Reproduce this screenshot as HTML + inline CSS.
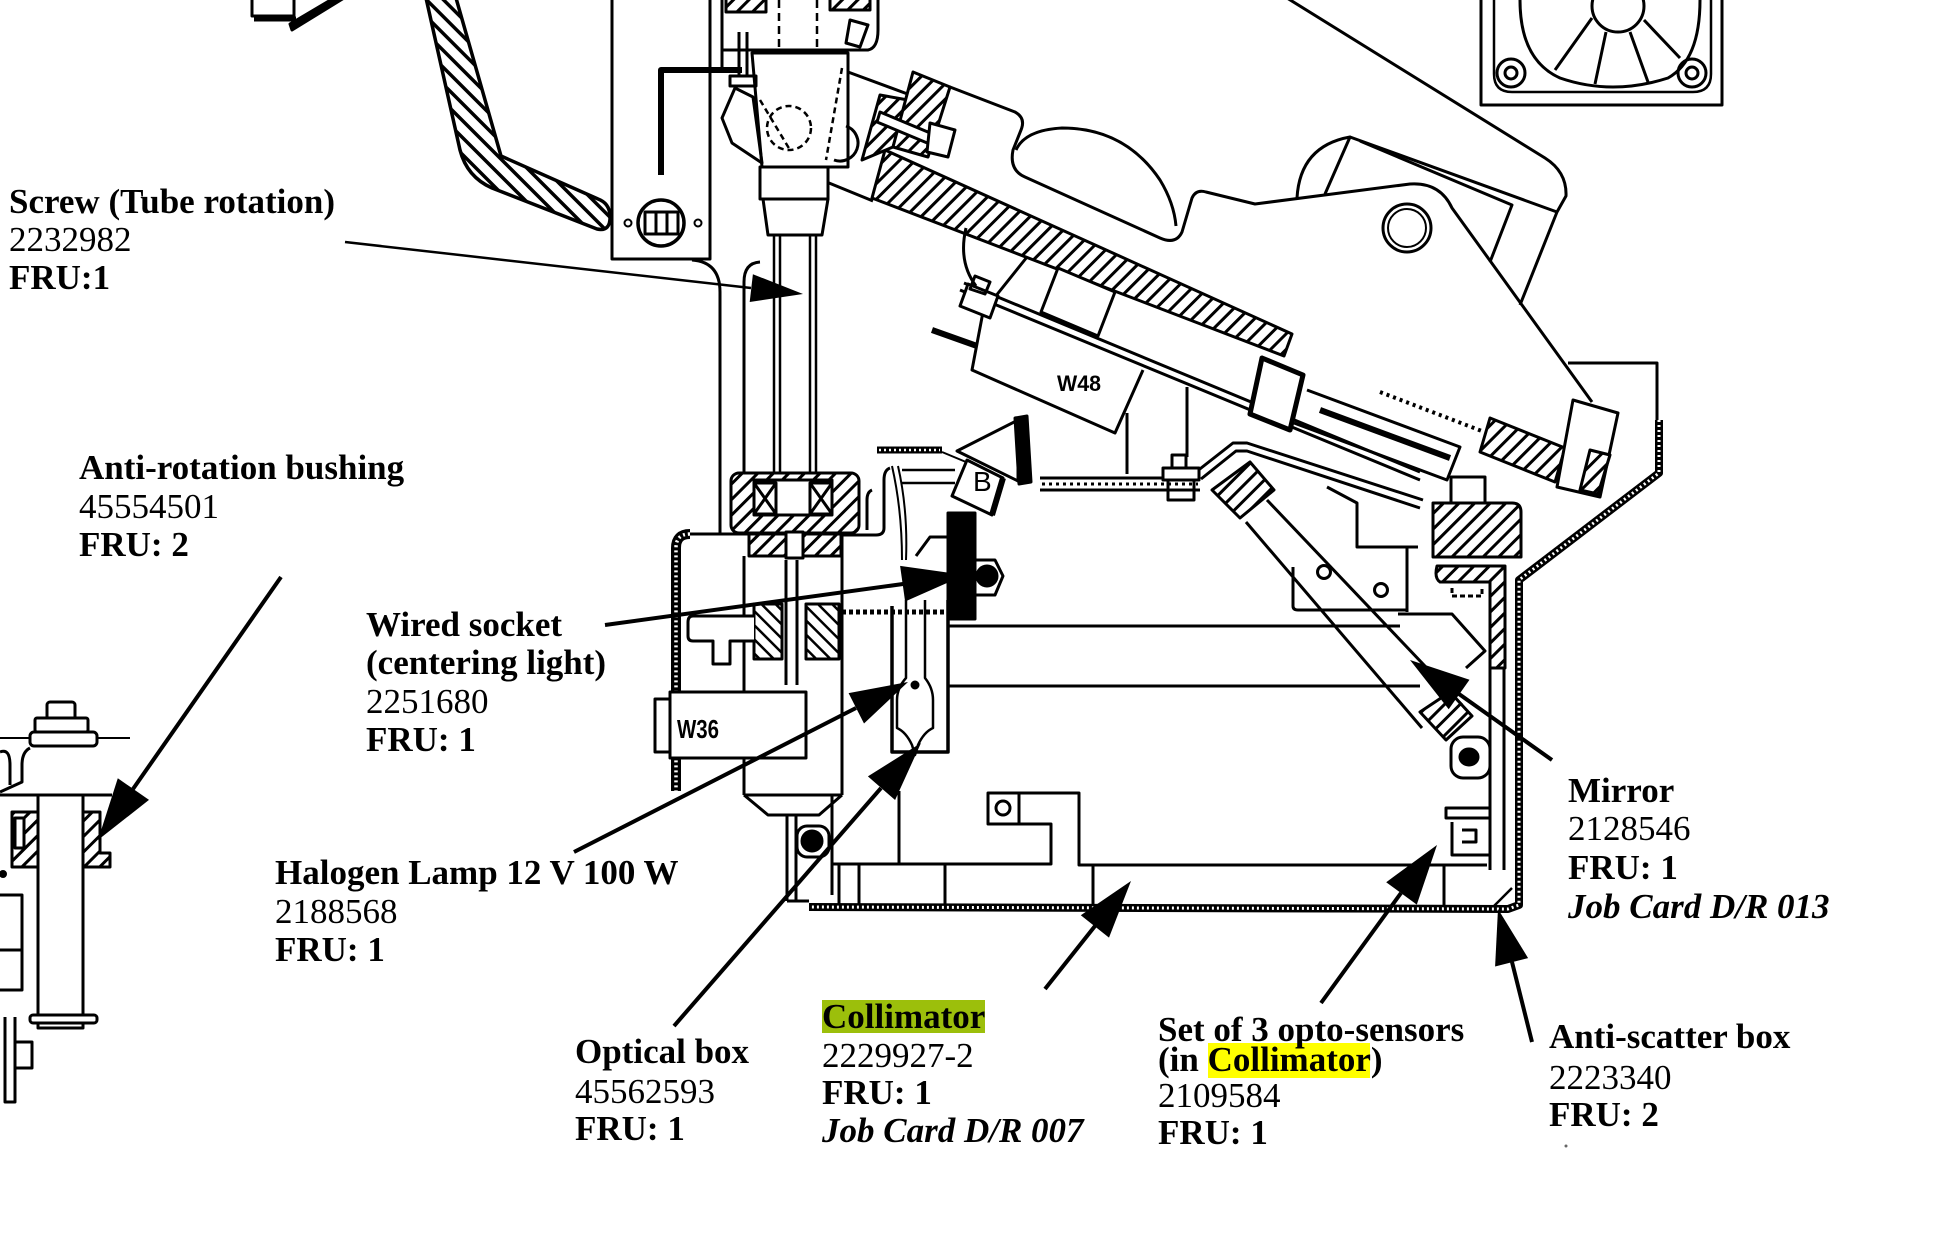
<!DOCTYPE html>
<html><head><meta charset="utf-8"><style>
html,body{margin:0;padding:0;background:#fff;overflow:hidden}
svg{display:block}
.t{font-family:"Liberation Serif","Times New Roman",serif;font-size:35px;fill:#000}
.b{font-weight:bold}
.bi{font-weight:bold;font-style:italic}
</style></head><body>
<svg xmlns="http://www.w3.org/2000/svg" width="1945" height="1245" viewBox="0 0 1945 1245">
<defs>
<pattern id="hb" width="12" height="12" patternUnits="userSpaceOnUse" patternTransform="rotate(-45)"><rect width="12" height="12" fill="#fff"/><rect width="3.5" height="12" fill="#000"/></pattern>
<pattern id="hf" width="11" height="11" patternUnits="userSpaceOnUse" patternTransform="rotate(45)"><rect width="11" height="11" fill="#fff"/><rect width="3" height="11" fill="#000"/></pattern>
<pattern id="hf2" width="10" height="10" patternUnits="userSpaceOnUse" patternTransform="rotate(-45)"><rect width="10" height="10" fill="#fff"/><rect width="2.5" height="10" fill="#000"/></pattern>
</defs>
<rect width="1945" height="1245" fill="#fff"/>
<g fill="none" stroke="#000" stroke-width="3" stroke-linejoin="round">
<!-- top-left arrow -->
<rect x="252" y="-3" width="42" height="19"/>
<path d="M254,19 L296,19" stroke-width="5"/>
<path d="M292,30 L344,-2 L334,-2 L290,24 Z" fill="#000"/>
<!-- hatched bracket -->
<path d="M426,-2 L460,150 Q467,177 492,188 L597,229 Q611,232 610,215 Q609,203 598,199 L501,156 L456,-2" fill="url(#hb)" stroke-width="3.5"/>
<!-- plate -->
<path d="M612,-2 L612,259 L710,259 L710,-2"/>
<path d="M722,-2 L722,67"/>
<path d="M661,175 L661,70 L742,70" stroke-width="6"/>
<circle cx="661" cy="223" r="23" stroke-width="3.5"/>
<rect x="645" y="212" width="33" height="22"/>
<path d="M656,212 V234 M667,212 V234"/>
<circle cx="628" cy="223" r="3.5" stroke-width="2"/>
<circle cx="698" cy="223" r="3.5" stroke-width="2"/>
<path d="M692,260 Q720,262 720,292 L720,534"/>
<path d="M760,262 Q744,263 744,282 L744,478"/>
<!-- tube -->
<path d="M774,234 V476 M780,234 V476 M810,234 V476 M816,234 V476" stroke-width="2.5"/>
<!-- column top -->
<path d="M722,50 L868,50 Q878,48 878,30 L878,-2"/>
<rect x="726" y="-4" width="40" height="16" fill="url(#hf)"/>
<rect x="830" y="-4" width="40" height="14" fill="url(#hf)"/>
<path d="M779,0 V50 M817,0 V50" stroke-dasharray="8 5" stroke-width="2.5"/>
<path d="M850,20 L868,25 L860,47 L846,43 Z"/>
<path d="M752,53 L848,53 L848,167 L762,167 Z"/>
<circle cx="789" cy="128" r="22" stroke-dasharray="6 4" stroke-width="2.5"/>
<path d="M760,100 L790,150 M842,68 L826,160" stroke-dasharray="6 4" stroke-width="2.5"/>
<path d="M722,118 L735,88 L753,97 L762,163 L732,143 Z"/>
<rect x="730" y="76" width="26" height="10"/>
<path d="M739,32 V76 M747,32 V76"/>
<rect x="760" y="167" width="68" height="32"/>
<path d="M763,199 L828,199 L822,235 L768,235 Z"/>
<path d="M846,126 A17,17 0 0 1 834,160"/>
<!-- arm -->
<path d="M848,72 L913,96"/>
<path d="M829,183 L873,201"/>
<path d="M885,150 L1292,334 L1284,356 L872,198 Z" fill="url(#hf)"/>
<path d="M862,160 L880,95 L908,100 L893,147 Z" fill="url(#hf)"/>
<path d="M913,72 L950,87 L928,157 L893,147 Z" fill="url(#hf)"/>
<path d="M880,112 L935,135 L932,145 L877,122 Z" fill="#fff"/>
<path d="M930,123 L955,130 L948,157 L927,152 Z" fill="#fff"/>
<path d="M950,87 L1015,112 Q1026,118 1021,130 L1013,150 Q1009,170 1025,177 L1160,238 Q1176,245 1182,232 L1192,198 Q1196,189 1206,192 L1255,204 L1410,184 Q1440,182 1452,208 L1592,402"/>
<path d="M1016,150 Q1025,130 1062,128 Q1125,128 1160,180 Q1174,203 1176,226"/>
<!-- housing -->
<path d="M1287,-2 L1545,158 Q1567,172 1566,196 L1557,212 L1520,305"/>
<path d="M1350,137 L1557,212"/>
<path d="M1360,141 L1512,205 L1490,262"/>
<path d="M1297,198 Q1300,146 1350,137 L1325,194"/>
<circle cx="1407" cy="228" r="24"/><circle cx="1407" cy="228" r="19" stroke-width="2"/>
<path d="M1568,363 L1657,363 L1657,420"/>
<!-- fan -->
<path d="M1481,-2 L1481,105 L1722,105 L1722,-2"/>
<path d="M1494,-2 L1494,74 Q1494,92 1512,92 L1693,92 Q1711,92 1711,74 L1711,-2" stroke-width="2.5"/>
<circle cx="1511" cy="73" r="14"/><circle cx="1511" cy="73" r="6"/>
<circle cx="1692" cy="73" r="14"/><circle cx="1692" cy="73" r="6"/>
<path d="M1520,0 Q1520,60 1560,78 Q1612,96 1668,78 Q1700,60 1700,0"/>
<circle cx="1618" cy="6" r="26"/>
<path d="M1592,18 L1555,70 M1606,32 L1595,84 M1630,32 L1648,82 M1644,20 L1680,58"/>
<!-- rails & W48 -->
<path d="M960,290 L1420,480 M964,283 L1420,472"/>
<path d="M1027,257 L983,312 L972,370 L1115,433 L1143,370"/>
<path d="M968,284 L998,296 L990,318 L960,306 Z" fill="#fff"/>
<path d="M975,276 L990,282 L985,294 L970,289 Z"/>
<path d="M932,330 L977,346" stroke-width="6"/>
<path d="M966,228 Q958,262 976,286"/>
<path d="M1058,268 L1115,292 L1098,336 L1041,312 Z" fill="#fff"/>
<path d="M1262,358 L1303,375 L1290,430 L1250,414 Z" stroke-width="5" fill="#fff"/>
<path d="M1307,390 L1460,447 L1447,480 L1294,423"/>
<path d="M1320,410 L1450,458" stroke-width="6"/>
<path d="M1380,392 L1487,433" stroke-width="4" stroke-dasharray="3 4"/>
<path d="M1490,418 L1565,448 L1555,482 L1480,452 Z" fill="url(#hf)"/>
<path d="M1573,400 L1618,413 L1600,497 L1557,487 Z" fill="#fff"/>
<path d="M1590,450 L1610,455 L1598,494 L1580,490 Z" fill="url(#hf)"/>
<path d="M1127,413 V474 M1187,387 V457"/>
<!-- B view arrow -->
<path d="M957,451 L1018,420 L1018,481 Z" fill="#fff"/>
<path d="M1015,418 L1027,416 L1031,482 L1019,484 Z" fill="#000"/>
<path d="M967,460 L1003,478 L992,515 L952,496 Z" fill="#fff"/>
<path d="M1003,478 L992,515" stroke-width="6"/>
<path d="M877,450 L942,450" stroke-width="7"/>
<path d="M879,450 L940,450" stroke="#fff" stroke-width="2.5" stroke-dasharray="2 3"/>
<path d="M942,452 L966,462" stroke-width="2"/>
<!-- dotted plate -->
<path d="M1040,478 H1200 M1040,490 H1200"/>
<path d="M1042,484 H1198" stroke-dasharray="3 4"/>
<path d="M1196,472 L1233,443 L1247,443 L1423,500"/>
<path d="M1201,479 L1236,451 L1247,451 L1420,508"/>
<rect x="1172" y="455" width="14" height="13"/><rect x="1163" y="468" width="36" height="12" fill="#fff"/><rect x="1168" y="480" width="26" height="20"/>
<!-- mirror arm -->
<path d="M1246,522 L1422,728"/>
<path d="M1267,500 L1462,705"/>
<path d="M1212,490 L1250,462 L1274,490 L1240,518 Z" fill="url(#hf)"/>
<circle cx="1324" cy="572" r="6.5"/><circle cx="1381" cy="590" r="6.5"/>
<path d="M1420,712 L1450,692 L1472,716 L1446,740 Z" fill="url(#hf)"/>
<path d="M1398,614 L1452,614 L1485,651 L1466,668"/>
<path d="M1293,567 V606 Q1293,610 1298,610 L1407,610"/>
<path d="M1327,487 L1357,503 V547 H1418 M1407,547 V612"/>
<!-- right bracket -->
<path d="M1433,503 H1512 Q1521,503 1521,512 V557 H1433 Z" fill="url(#hf)"/>
<rect x="1451" y="477" width="34" height="26" fill="#fff"/>
<path d="M1437,566 H1505 V668 H1490 V582 H1440 Q1434,578 1437,566 Z" fill="url(#hf)"/>
<path d="M1452,588 V596 H1482 V588" stroke-dasharray="5 3"/>
<path d="M1490,668 V870 M1504,668 V870"/>
<rect x="1451" y="737" width="39" height="41" rx="12"/>
<ellipse cx="1469" cy="757" rx="9" ry="8" fill="#000"/>
<path d="M1446,808 H1490 V818 H1446 Z M1452,822 V855 H1490 M1462,830 H1476 V842 H1462"/>
<!-- outer dotted wall -->
<path d="M1659,420 L1659,473 L1519,580 L1519,905 L1508,909 L809,907" stroke-width="8"/>
<path d="M1659,420 L1659,473 L1519,580 L1519,905 L1508,909 L809,907" stroke="#fff" stroke-width="3" stroke-dasharray="2 3"/>
<path d="M1494,906 L1512,888" stroke-width="2.5"/>
<!-- box lines -->
<path d="M948,626 H1400 M948,686 H1420"/>
<path d="M832,864 H1051 V824 H988 V793 H1079 V865 H1487"/>
<circle cx="1003" cy="808" r="7"/><path d="M1019,793 V824"/>
<path d="M839,865 V905 M859,865 V905 M945,865 V905 M1093,865 V905 M1444,865 V905"/>
<path d="M899,791 V864 M832,795 V864"/>
<!-- optical box -->
<rect x="731" y="473" width="128" height="60" rx="8" fill="url(#hf)"/>
<rect x="754" y="480" width="78" height="35" fill="#fff"/>
<rect x="754" y="483" width="22" height="31"/><path d="M754,483 L776,514 M776,483 L754,514"/>
<rect x="810" y="483" width="22" height="31"/><path d="M810,483 L832,514 M832,483 L810,514"/>
<rect x="749" y="534" width="92" height="22" fill="url(#hf)"/>
<rect x="786" y="532" width="17" height="26" fill="#fff"/>
<path d="M690,534 Q676,534 676,548 L676,791" stroke-width="10"/>
<path d="M690,534 Q676,534 676,548 L676,791" stroke="#fff" stroke-width="3.5" stroke-dasharray="2 3"/>
<path d="M690,534 H750"/>
<path d="M744,556 V795 M842,534 V795"/>
<path d="M786,560 V685 M797,560 V685"/>
<rect x="754" y="604" width="28" height="55" fill="url(#hf2)"/>
<rect x="806" y="604" width="33" height="55" fill="url(#hf2)"/>
<path d="M754,616 H693 Q688,616 688,622 V636 Q688,641 693,641 H713 V664 H730 V641 H754" fill="#fff"/>
<rect x="670" y="692" width="136" height="66" fill="#fff"/>
<rect x="655" y="699" width="15" height="53" fill="#fff"/>
<path d="M744,795 H842 M744,795 L768,815 H819 L842,795"/>
<path d="M787,815 V901 M796,815 V901 M832,815 V895"/>
<rect x="797" y="826" width="32" height="31" rx="10"/>
<circle cx="812" cy="841" r="10" fill="#000"/>
<path d="M787,901 H809"/>
<!-- lamp holder -->
<path d="M892,606 V752 H948 V600" stroke-width="3.5"/>
<path d="M906,600 V678 Q897,688 897,700 V728 Q906,732 912,745 L915,755 L918,745 Q924,732 933,728 V700 Q933,688 925,678 V600" stroke-width="2.5"/>
<circle cx="915" cy="685" r="3" fill="#000"/>
<path d="M892,466 Q902,510 902,560 M898,466 Q908,510 906,560" stroke-width="2"/>
<path d="M902,470 H955 M902,483 H955" stroke-width="2.5"/>
<path d="M890,468 Q884,470 884,480 V528 Q884,535 876,535 H842"/>
<path d="M872,490 Q867,492 867,500 V530"/>
<rect x="948" y="513" width="27" height="106" fill="#000"/>
<path d="M975,560 H995 L1003,576 L995,595 H975 Z" fill="#fff"/>
<circle cx="987" cy="576" r="10" fill="#000"/>
<path d="M916,556 L930,537 H948"/>
<path d="M842,612 H948" stroke-width="5" stroke-dasharray="4 3"/>
<!-- left partial figure -->
<rect x="47" y="702" width="28" height="21" rx="3"/>
<rect x="35" y="718" width="53" height="14" rx="2" fill="#fff"/>
<rect x="30" y="732" width="67" height="14" rx="4" fill="#fff"/>
<path d="M0,738 H30 M97,738 H130" stroke-width="2"/>
<path d="M0,752 Q10,748 10,765 V785 M30,748 Q22,752 22,765 V782 L0,792"/>
<path d="M0,795 H112"/>
<rect x="38" y="795" width="45" height="233"/>
<rect x="12" y="812" width="26" height="55" fill="url(#hf)"/>
<rect x="15" y="818" width="9" height="30" fill="#fff"/>
<path d="M83,812 H100 V853 H110 V867 H83 Z" fill="url(#hf)"/>
<rect x="30" y="1015" width="67" height="8" rx="3" fill="#fff"/>
<path d="M-2,895 H22 V990 H-2 M0,950 H22"/>
<circle cx="3" cy="874" r="2.5" fill="#000"/>
<path d="M5,1017 V1102 H15 V1017 M15,1042 H32 V1068 H15"/>
<!-- leader lines -->
<path d="M345,242 L751,288" stroke-width="2.5"/>
<path d="M281,577 L133,789" stroke-width="4"/>
<path d="M605,625 L903,584" stroke-width="4"/>
<path d="M574,852 L856,708" stroke-width="4"/>
<path d="M674,1026 L881,788" stroke-width="4"/>
<path d="M1045,989 L1095,926" stroke-width="4"/>
<path d="M1321,1003 L1401,893" stroke-width="4"/>
<path d="M1532,1042 L1512,962" stroke-width="4"/>
<path d="M1552,760 L1459,694" stroke-width="4"/>
</g>
<g fill="#000" stroke="none">
<polygon points="803,294 752.9,274.2 749.7,302.0"/>
<polygon points="98,840 117.8,778.3 149.0,799.9"/>
<polygon points="965,575 905.1,601.5 900.1,565.9"/>
<polygon points="908,682 864.0,723.5 848.6,693.1"/>
<polygon points="921,743 895.1,800.0 867.9,776.4"/>
<polygon points="1131,881 1109,937.6 1080.8,915.2"/>
<polygon points="1437,845 1416.8,904.6 1386.2,882.2"/>
<polygon points="1498,909 1528.1,958.1 1495.1,966.5"/>
<polygon points="1410,660 1469.5,679.8 1448.7,709.2"/>
<text x="1057" y="391" font-family="Liberation Sans, sans-serif" font-weight="bold" font-size="22" textLength="44" lengthAdjust="spacingAndGlyphs">W48</text>
<text x="677" y="738" font-family="Liberation Sans, sans-serif" font-weight="bold" font-size="26" textLength="42" lengthAdjust="spacingAndGlyphs">W36</text>
<text x="973" y="491" font-family="Liberation Sans, sans-serif" font-size="28">B</text>
<circle cx="1566" cy="1146" r="1.5" fill="#666"/>
</g>
<!-- highlights -->
<rect x="822" y="1000" width="163" height="33" fill="#9cbf0b"/>
<rect x="1208" y="1043" width="162" height="35" fill="#ffff00"/>
<!-- labels -->
<text class="t b" x="9" y="213">Screw (Tube rotation)</text>
<text class="t" x="9" y="251">2232982</text>
<text class="t b" x="9" y="289">FRU:1</text>

<text class="t b" x="79" y="479">Anti-rotation bushing</text>
<text class="t" x="79" y="518">45554501</text>
<text class="t b" x="79" y="556">FRU: 2</text>

<text class="t b" x="366" y="636">Wired socket</text>
<text class="t b" x="366" y="674">(centering light)</text>
<text class="t" x="366" y="713">2251680</text>
<text class="t b" x="366" y="751">FRU: 1</text>

<text class="t b" x="275" y="884">Halogen Lamp 12 V 100 W</text>
<text class="t" x="275" y="923">2188568</text>
<text class="t b" x="275" y="961">FRU: 1</text>

<text class="t b" x="575" y="1063">Optical box</text>
<text class="t" x="575" y="1103">45562593</text>
<text class="t b" x="575" y="1140">FRU: 1</text>

<text class="t b" x="822" y="1028">Collimator</text>
<text class="t" x="822" y="1067">2229927-2</text>
<text class="t b" x="822" y="1104">FRU: 1</text>
<text class="t bi" x="822" y="1142">Job Card D/R 007</text>

<text class="t b" x="1158" y="1041">Set of 3 opto-sensors</text>
<text class="t b" x="1158" y="1071">(in Collimator)</text>
<text class="t" x="1158" y="1107">2109584</text>
<text class="t b" x="1158" y="1144">FRU: 1</text>

<text class="t b" x="1568" y="802">Mirror</text>
<text class="t" x="1568" y="840">2128546</text>
<text class="t b" x="1568" y="879">FRU: 1</text>
<text class="t bi" x="1568" y="918">Job Card D/R 013</text>

<text class="t b" x="1549" y="1048">Anti-scatter box</text>
<text class="t" x="1549" y="1089">2223340</text>
<text class="t b" x="1549" y="1126">FRU: 2</text>
</svg>
</body></html>
